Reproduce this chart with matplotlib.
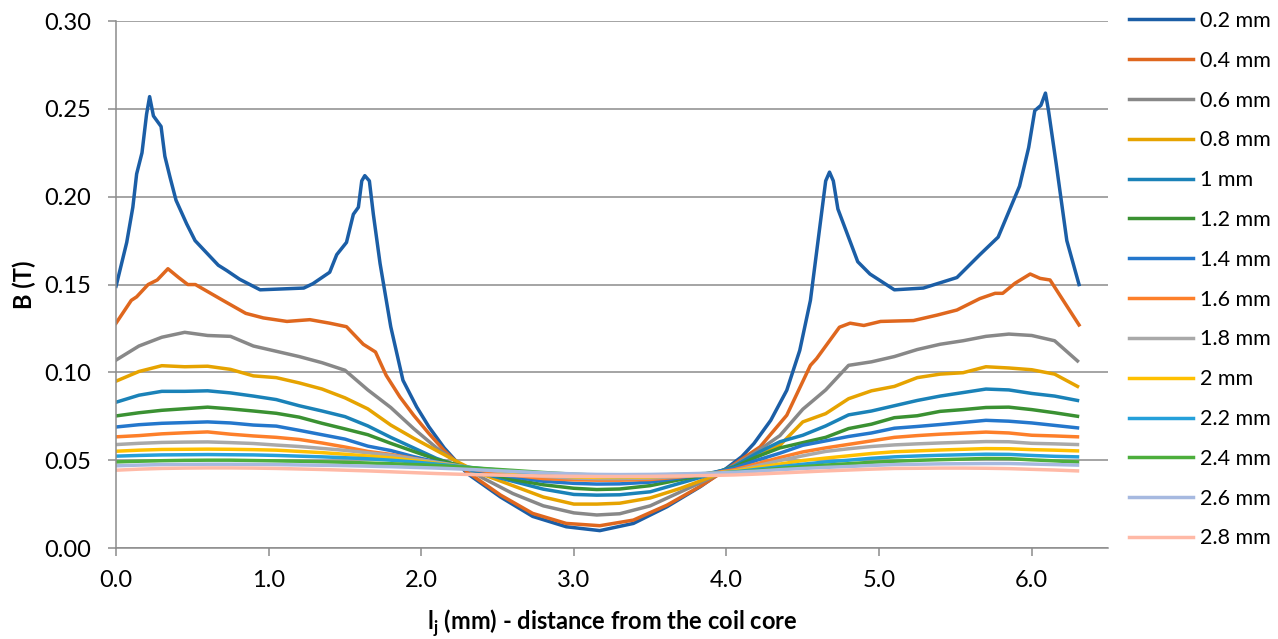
import matplotlib
matplotlib.use("Agg")
import matplotlib.pyplot as plt
from matplotlib.ticker import FormatStrFormatter

plt.rcParams['font.family'] = ['Lato', 'DejaVu Sans']
plt.rcParams['mathtext.fontset'] = 'custom'
plt.rcParams['mathtext.rm'] = 'Lato'
plt.rcParams['mathtext.bf'] = 'Lato:bold'

# 0.2 mm and 0.4 mm have sharp peaks, so they carry their own x points
x_02 = [0.0, 0.07, 0.11, 0.135, 0.17, 0.2, 0.22, 0.245, 0.295, 0.32, 0.354, 0.393, 0.463,
        0.518, 0.67, 0.725, 0.81, 0.944, 1.23, 1.29, 1.40, 1.446, 1.51, 1.555, 1.588, 1.61,
        1.63, 1.66, 1.686, 1.73, 1.80, 1.88, 1.97, 2.05, 2.15, 2.30, 2.52, 2.73, 2.95, 3.17,
        3.39, 3.61, 3.83, 4.0, 4.10, 4.18, 4.29, 4.395, 4.48, 4.55, 4.60, 4.65, 4.675, 4.70,
        4.73, 4.86, 4.94, 5.10, 5.29, 5.51, 5.66, 5.78, 5.92, 5.98, 6.02, 6.06, 6.09, 6.11,
        6.16, 6.23, 6.31]
b_02 = [0.149, 0.174, 0.194, 0.213, 0.225, 0.247, 0.257, 0.246, 0.240, 0.223, 0.211, 0.198, 0.1845,
        0.175, 0.161, 0.158, 0.153, 0.147, 0.148, 0.1505, 0.157, 0.167, 0.174, 0.190, 0.194, 0.209,
        0.212, 0.209, 0.190, 0.162, 0.126, 0.0955, 0.0803, 0.069, 0.057, 0.0425, 0.029, 0.018, 0.0121, 0.0099,
        0.014, 0.0235, 0.035, 0.0454, 0.052, 0.0595, 0.0727, 0.0898, 0.1125, 0.141, 0.175, 0.209, 0.214, 0.209,
        0.193, 0.163, 0.156, 0.147, 0.148, 0.154, 0.167, 0.177, 0.206, 0.228, 0.249, 0.252, 0.259, 0.249,
        0.219, 0.175, 0.150]

x_04 = [0.0, 0.10, 0.135, 0.21, 0.27, 0.34, 0.41, 0.47, 0.52, 0.62, 0.70, 0.85, 0.965, 1.12, 1.27,
        1.40, 1.51, 1.62, 1.70, 1.77, 1.86, 1.95, 2.05, 2.15, 2.30, 2.52, 2.73, 2.95, 3.17, 3.39, 3.61,
        3.83, 4.0, 4.22, 4.395, 4.55, 4.59, 4.74, 4.81, 4.90, 5.01, 5.225, 5.38, 5.51, 5.66, 5.76,
        5.81, 5.89, 5.99, 6.055, 6.12, 6.31]
b_04 = [0.128, 0.141, 0.143, 0.150, 0.1526, 0.159, 0.154, 0.150, 0.150, 0.145, 0.141, 0.1336, 0.131, 0.129, 0.130,
        0.128, 0.126, 0.116, 0.1116, 0.0983, 0.086, 0.0756, 0.0652, 0.0555, 0.0434, 0.0301, 0.0197, 0.014, 0.0127, 0.0159, 0.0244,
        0.0352, 0.0447, 0.0576, 0.0756, 0.104, 0.1078, 0.1257, 0.128, 0.1267, 0.129, 0.1295, 0.1326, 0.1355, 0.142, 0.145,
        0.145, 0.1507, 0.156, 0.1535, 0.1526, 0.127]

# the smoother curves share one set of x points
x_common = [0.0, 0.15, 0.3, 0.45, 0.6, 0.75, 0.9, 1.05, 1.2, 1.35, 1.5, 1.65, 1.8, 1.95, 2.1, 2.25,
            2.4, 2.6, 2.8, 3.0, 3.15, 3.3, 3.5, 3.7, 3.9, 4.05, 4.2, 4.35, 4.5, 4.65, 4.8, 4.95,
            5.1, 5.25, 5.4, 5.55, 5.7, 5.85, 6.0, 6.15, 6.3]

b_06 = [0.107, 0.115, 0.120, 0.1228, 0.121, 0.1205, 0.115, 0.112, 0.109, 0.1055, 0.1012, 0.090, 0.080, 0.068,
        0.057, 0.048, 0.040, 0.031, 0.024, 0.020, 0.0188, 0.0195, 0.024, 0.032, 0.040, 0.047, 0.055, 0.064,
        0.079, 0.090, 0.104, 0.106, 0.109, 0.113, 0.116, 0.118, 0.1205, 0.1218, 0.121, 0.118, 0.1065]
b_08 = [0.095, 0.1005, 0.1038, 0.1032, 0.1035, 0.1017, 0.098, 0.097, 0.094, 0.0905, 0.0855, 0.0792, 0.070, 0.0625,
        0.0555, 0.0485, 0.042, 0.0355, 0.029, 0.025, 0.025, 0.0255, 0.0285, 0.034, 0.0405, 0.046, 0.052, 0.0585,
        0.0718, 0.0765, 0.085, 0.0895, 0.092, 0.097, 0.099, 0.0998, 0.1032, 0.1025, 0.1015, 0.099, 0.092]
b_10 = [0.083, 0.087, 0.0892, 0.0892, 0.0895, 0.0883, 0.0865, 0.0845, 0.081, 0.078, 0.0748, 0.0695, 0.063, 0.057,
        0.051, 0.0465, 0.0425, 0.038, 0.0335, 0.0305, 0.0301, 0.0303, 0.032, 0.037, 0.042, 0.0465, 0.054, 0.0605,
        0.0642, 0.0695, 0.0758, 0.078, 0.081, 0.084, 0.0865, 0.0885, 0.0905, 0.090, 0.088, 0.0865, 0.084]
b_12 = [0.0752, 0.077, 0.0784, 0.0793, 0.0802, 0.0792, 0.078, 0.0767, 0.0745, 0.071, 0.0678, 0.0645, 0.0596, 0.055,
        0.0505, 0.047, 0.0435, 0.039, 0.036, 0.034, 0.0333, 0.0336, 0.0355, 0.039, 0.0425, 0.046, 0.052, 0.057,
        0.060, 0.063, 0.068, 0.0705, 0.0742, 0.0753, 0.0778, 0.0788, 0.080, 0.0802, 0.0788, 0.077, 0.075]
b_14 = [0.0689, 0.0702, 0.071, 0.0714, 0.0718, 0.0712, 0.070, 0.0694, 0.067, 0.0645, 0.062, 0.058, 0.0555, 0.052,
        0.049, 0.0465, 0.0435, 0.0405, 0.038, 0.0368, 0.0364, 0.0365, 0.0375, 0.040, 0.0428, 0.0455, 0.050, 0.054,
        0.0585, 0.061, 0.0635, 0.0655, 0.0682, 0.0692, 0.0703, 0.0715, 0.0727, 0.0722, 0.0712, 0.0698, 0.0684]
b_16 = [0.0633, 0.064, 0.065, 0.0656, 0.0661, 0.0648, 0.0638, 0.063, 0.0618, 0.0598, 0.0575, 0.055, 0.0533, 0.051,
        0.0485, 0.0462, 0.044, 0.0415, 0.0395, 0.0388, 0.0386, 0.0386, 0.039, 0.0405, 0.0425, 0.0445, 0.048, 0.0515,
        0.0547, 0.057, 0.059, 0.061, 0.063, 0.064, 0.0648, 0.0654, 0.066, 0.0655, 0.0642, 0.0638, 0.0633]
b_18 = [0.0589, 0.0596, 0.0601, 0.0603, 0.0604, 0.0600, 0.0595, 0.0586, 0.0578, 0.0567, 0.0556, 0.0542, 0.0528, 0.0508,
        0.0488, 0.0468, 0.0448, 0.0427, 0.0408, 0.0398, 0.0395, 0.0395, 0.0398, 0.0408, 0.0422, 0.0438, 0.0468, 0.0498,
        0.0525, 0.0550, 0.0565, 0.0578, 0.0587, 0.0593, 0.0598, 0.0602, 0.0606, 0.0605, 0.0596, 0.0593, 0.0589]
b_20 = [0.0551, 0.0557, 0.0561, 0.0562, 0.0563, 0.0562, 0.0560, 0.0557, 0.0550, 0.0543, 0.0534, 0.0524, 0.0513, 0.0498,
        0.0482, 0.0465, 0.0449, 0.0432, 0.0417, 0.0405, 0.0402, 0.0402, 0.0405, 0.0413, 0.0425, 0.0437, 0.0458, 0.0478,
        0.0498, 0.0512, 0.0525, 0.0538, 0.0548, 0.0553, 0.0558, 0.0562, 0.0566, 0.0565, 0.0560, 0.0557, 0.0553]
b_22 = [0.0523, 0.0527, 0.0530, 0.0531, 0.0532, 0.0531, 0.0530, 0.0527, 0.0523, 0.0519, 0.0514, 0.0508, 0.0500, 0.0490,
        0.0478, 0.0465, 0.0452, 0.0437, 0.0424, 0.0413, 0.0408, 0.0407, 0.0409, 0.0415, 0.0424, 0.0433, 0.0448, 0.0463,
        0.0477, 0.0490, 0.0500, 0.0511, 0.0519, 0.0524, 0.0528, 0.0531, 0.0534, 0.0533, 0.0527, 0.0522, 0.0519]
b_24 = [0.0490, 0.0494, 0.0497, 0.0499, 0.0500, 0.0500, 0.0498, 0.0496, 0.0494, 0.0491, 0.0488, 0.0484, 0.0480, 0.0475,
        0.0470, 0.0462, 0.0453, 0.0442, 0.0430, 0.0420, 0.0415, 0.0414, 0.0415, 0.0419, 0.0425, 0.0431, 0.0442, 0.0453,
        0.0463, 0.0472, 0.0480, 0.0488, 0.0494, 0.0499, 0.0503, 0.0506, 0.0510, 0.0509, 0.0502, 0.0496, 0.0490]
b_26 = [0.0468, 0.0472, 0.0475, 0.0476, 0.0477, 0.0477, 0.0476, 0.0475, 0.0473, 0.0471, 0.0469, 0.0466, 0.0463, 0.0459,
        0.0455, 0.0450, 0.0444, 0.0436, 0.0428, 0.0422, 0.0419, 0.0418, 0.0419, 0.0422, 0.0426, 0.0431, 0.0438, 0.0446,
        0.0453, 0.0459, 0.0464, 0.0470, 0.0475, 0.0477, 0.0479, 0.0480, 0.0481, 0.0481, 0.0478, 0.0475, 0.0472]
b_28 = [0.0443, 0.0449, 0.0453, 0.0455, 0.0456, 0.0456, 0.0455, 0.0453, 0.0450, 0.0447, 0.0443, 0.0439, 0.0434, 0.0429,
        0.0424, 0.0420, 0.0417, 0.0413, 0.0410, 0.0408, 0.0407, 0.0407, 0.0408, 0.0410, 0.0413, 0.0416, 0.0421, 0.0427,
        0.0433, 0.0439, 0.0444, 0.0449, 0.0453, 0.0454, 0.0455, 0.0455, 0.0454, 0.0452, 0.0448, 0.0444, 0.0439]

labels = ['0.2 mm', '0.4 mm', '0.6 mm', '0.8 mm', '1 mm', '1.2 mm', '1.4 mm',
          '1.6 mm', '1.8 mm', '2 mm', '2.2 mm', '2.4 mm', '2.6 mm', '2.8 mm']
colors = ['#1b5ea6', '#df671e', '#888888', '#e6a300', '#1a82b8', '#3a9132', '#2477cc',
          '#fd7f2a', '#a9a9a9', '#ffc000', '#25a0da', '#4cae3c', '#a6b9e0', '#ffb9a6']

xs = [x_02, x_04] + [x_common] * 12
ys = [b_02, b_04, b_06, b_08, b_10, b_12, b_14, b_16, b_18, b_20, b_22, b_24, b_26, b_28]

fig = plt.figure(figsize=(12.78, 6.39), dpi=100)
ax = fig.add_axes([0.0908, 0.1424, 0.7762, 0.8246])

for x, y, lab, c in zip(xs, ys, labels, colors):
    ax.plot(x, y, color=c, lw=2.5, label=lab, solid_joinstyle='round')

ax.set_xlim(0, 6.5)
ax.set_ylim(0, 0.30)
ax.set_xticks([0, 1, 2, 3, 4, 5, 6])
ax.set_yticks([0, 0.05, 0.10, 0.15, 0.20, 0.25, 0.30])
ax.xaxis.set_major_formatter(FormatStrFormatter('%.1f'))
ax.yaxis.set_major_formatter(FormatStrFormatter('%.2f'))

gray = '#8c8c8c'
ax.grid(axis='y', color=gray, lw=1.1)
ax.set_axisbelow(True)
for s in ['top', 'right']:
    ax.spines[s].set_visible(False)
for s in ['left', 'bottom']:
    ax.spines[s].set_color(gray)
    ax.spines[s].set_linewidth(1.1)
ax.tick_params(axis='both', colors=gray, labelcolor='black', labelsize=17, length=6, width=1.1)
ax.tick_params(axis='y', pad=12)
ax.tick_params(axis='x', pad=10)

ax.set_ylabel('B (T)', fontsize=17, fontweight='bold', labelpad=6)
ax.set_xlabel(r'l$_{\mathbf{j}}$ (mm) - distance from the coil core', fontsize=17,
              fontweight='bold', labelpad=12)

fig.legend(loc='upper left', bbox_to_anchor=(0.873, 1.003), frameon=False, fontsize=15.5,
           handlelength=3.0, handletextpad=0.3, labelspacing=0.92, borderaxespad=0.2)

fig.savefig('out.png', dpi=100)
